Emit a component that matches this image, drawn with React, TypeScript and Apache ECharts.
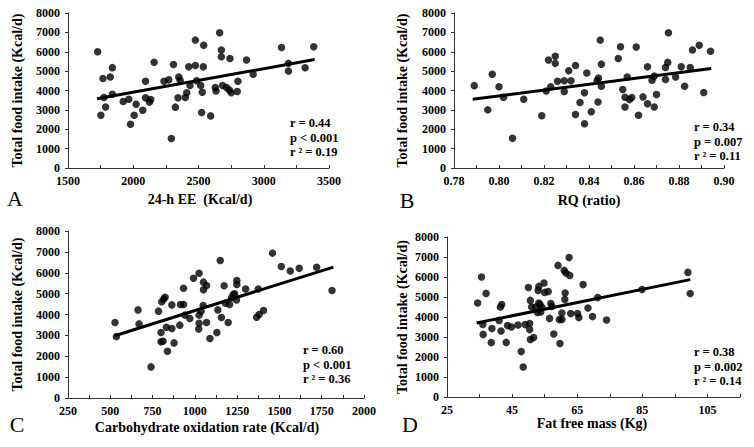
import React, { useEffect, useRef } from "react";
import * as echarts from "echarts";

const FONT = '"Liberation Serif", "Times New Roman", serif';

// Panel A: 24-h EE (Kcal/d) vs Total food intake (Kcal/d)
const eeIntake: [number, number][] = [
  [1727, 6000], [1752, 2720], [1768, 4620], [1775, 3640], [1788, 3150], [1824, 4700], [1840, 5180],
  [1840, 3810], [1923, 3430], [1966, 3550], [1979, 2260], [2007, 2720], [2022, 3290], [2073, 2980],
  [2094, 4480], [2094, 3620], [2124, 3400], [2134, 3530], [2160, 5460], [2236, 4480], [2272, 4550],
  [2292, 1520], [2308, 5340], [2323, 3140], [2343, 3620], [2349, 4700], [2359, 4530], [2399, 3640],
  [2410, 3880], [2425, 5220], [2435, 4260], [2476, 6600], [2476, 5290], [2486, 4500], [2517, 4260],
  [2524, 2860], [2529, 3910], [2537, 5220], [2540, 6330], [2593, 2690], [2629, 4150], [2634, 3980],
  [2662, 6980], [2675, 6090], [2675, 5740], [2685, 4260], [2715, 4150], [2736, 4020], [2741, 5650],
  [2751, 3880], [2797, 3950], [2802, 4480], [2868, 5570], [2919, 4840], [3136, 6220], [3189, 5400],
  [3189, 5000], [3317, 5170], [3383, 6260],
];
const eeFit: [number, number][] = [[1722, 3570], [3390, 5600]];

// Panel B: RQ (ratio)
const rqIntake: [number, number][] = [
  [0.789, 4250], [0.795, 3000], [0.797, 4840], [0.800, 4190], [0.802, 3650], [0.806, 1530],
  [0.811, 3550], [0.819, 2700], [0.821, 3970], [0.822, 5570], [0.823, 4190], [0.825, 5770],
  [0.825, 5400], [0.826, 4480], [0.829, 4500], [0.829, 3950], [0.831, 5020], [0.832, 4500],
  [0.834, 5290], [0.834, 2760], [0.836, 3380], [0.838, 2280], [0.838, 3880], [0.839, 4900],
  [0.841, 2900], [0.8436, 4500], [0.8442, 4640], [0.844, 3410], [0.845, 6600], [0.8455, 5360],
  [0.8455, 4220], [0.853, 5650], [0.854, 6260], [0.855, 4050], [0.856, 3650], [0.856, 3150],
  [0.857, 4700], [0.858, 3530], [0.859, 3640], [0.861, 6240], [0.862, 2720], [0.864, 3670],
  [0.866, 3310], [0.866, 5220], [0.868, 4530], [0.869, 4740], [0.869, 3150], [0.870, 3790],
  [0.874, 4570], [0.874, 5190], [0.875, 5450], [0.8753, 6980], [0.8785, 4700], [0.881, 5220],
  [0.8825, 4220], [0.885, 5190], [0.886, 6090], [0.889, 6330], [0.891, 3900], [0.894, 6030],
];
const rqFit: [number, number][] = [[0.7883, 3550], [0.8943, 5140]];

// Panel C: Carbohydrate oxidation rate (Kcal/d)
const choIntake: [number, number][] = [
  [528, 3620], [536, 2940], [664, 4220], [670, 3550], [741, 1490], [785, 4160], [800, 2690],
  [800, 3140], [804, 4610], [812, 2720], [816, 4740], [824, 4830], [832, 3390], [838, 2240],
  [864, 4460], [864, 3330], [877, 2640], [911, 3490], [915, 4480], [933, 4480], [933, 5260],
  [941, 3970], [970, 3810], [992, 5740], [1025, 5980], [1023, 3300], [1025, 3580], [1025, 3970],
  [1037, 4160], [1049, 4430], [1051, 5550], [1051, 5180], [1069, 5390], [1069, 3620], [1089, 2850],
  [1130, 3140], [1136, 4220], [1150, 6590], [1157, 3860], [1173, 5380], [1181, 4540], [1197, 3620],
  [1205, 4480], [1217, 4800], [1227, 4960], [1235, 4990], [1246, 4700], [1248, 5630], [1248, 5440],
  [1300, 5220], [1365, 3870], [1375, 5220], [1380, 4000], [1406, 4190], [1459, 6940], [1511, 6300],
  [1564, 6080], [1617, 6210], [1720, 6260], [1811, 5150],
];
const choFit: [number, number][] = [[526, 2980], [1819, 6270]];

// Panel D: Fat free mass (Kg)
const ffmIntake: [number, number][] = [
  [34.4, 4700], [35.6, 6000], [36.0, 3630], [36.1, 3130], [37.0, 5180], [38.6, 2720], [38.8, 3420],
  [41.0, 3830], [41.4, 4500], [41.8, 4620], [41.6, 3300], [43.2, 2730], [43.6, 3570], [44.8, 3500],
  [46.8, 3600], [47.8, 2270], [48.4, 1500], [49.0, 3620], [50.0, 5470], [50.4, 3370], [50.4, 3670],
  [50.6, 4830], [50.6, 2870], [51.0, 4500], [51.6, 2970], [52.2, 4500], [52.8, 4230], [53.0, 5330],
  [53.2, 5530], [53.2, 4700], [53.6, 4630], [53.8, 4250], [54.2, 4470], [54.8, 5700], [55.0, 5230],
  [56.1, 5270], [56.5, 3930], [56.9, 4670], [57.2, 4530], [57.8, 3150], [59.1, 6580], [59.5, 3870],
  [59.7, 2670], [60.3, 4200], [60.3, 3880], [61.0, 6330], [61.3, 5200], [61.2, 4870], [61.5, 6200],
  [62.5, 6970], [62.7, 6080], [63.0, 4170], [65.1, 4170], [65.5, 3970], [66.8, 5620], [68.3, 4450],
  [69.7, 4020], [71.3, 4970], [74.0, 3850], [84.9, 5370], [99.0, 6230], [99.7, 5170],
];
const ffmFit: [number, number][] = [[34.1, 3700], [99.7, 5870]];

const xNames = ["24-h EE  (Kcal/d)", "RQ (ratio)", "Carbohydrate oxidation rate (Kcal/d)", "Fat free mass (Kg)"];
const yName = "Total food intake (Kcal/d)";
const panelLetters = ["A", "B", "C", "D"];
const statsR = ["r = 0.44", "r = 0.34", "r = 0.60", "r = 0.38"];
const statsP = ["p < 0.001", "p = 0.007", "p < 0.001", "p = 0.002"];
const statsR2 = ["r ² = 0.19", "r ² = 0.11", "r ² = 0.36", "r ² = 0.14"];

export default function App() {
  const ref = useRef<HTMLDivElement>(null);
  useEffect(() => {
    if (!ref.current) return;
    const chart = echarts.init(ref.current, null, { renderer: "svg" });

    const grids = [
      { left: 68, top: 13, width: 261, height: 155 },
      { left: 454, top: 13, width: 270, height: 155 },
      { left: 68, top: 231, width: 296, height: 167 },
      { left: 447, top: 237, width: 293, height: 160 },
    ];
    const xCfg = [
      { min: 1500, max: 3500, interval: 250, fmt: (v: number) => ((v - 1500) % 500 === 0 ? String(v) : "") },
      { min: 0.78, max: 0.9, interval: 0.01, fmt: (v: number) => (Math.round(v * 100) % 2 === 0 ? v.toFixed(2) : "") },
      { min: 250, max: 2000, interval: 125, fmt: (v: number) => ((v - 250) % 250 === 0 ? String(v) : "") },
      { min: 25, max: 115, interval: 10, fmt: (v: number) => ((Math.round(v) - 25) % 20 === 0 ? String(Math.round(v)) : "") },
    ];
    const yGaps = [44, 45, 44, 38];
    const datasets = [eeIntake, rqIntake, choIntake, ffmIntake];
    const fits = [eeFit, rqFit, choFit, ffmFit];
    const axisColor = "#333";

    const labelStyle = { color: "#000", fontFamily: FONT, fontWeight: "bold" as const, fontSize: 12 };
    const nameStyle = { color: "#000", fontFamily: FONT, fontWeight: "bold" as const, fontSize: 14 };

    const xAxis = xCfg.map((c, i) => ({
      type: "value",
      gridIndex: i,
      min: c.min,
      max: c.max,
      interval: c.interval,
      splitLine: { show: false },
      axisLine: { onZero: false, lineStyle: { color: axisColor, width: 1 } },
      axisTick: { inside: true, length: 3, lineStyle: { color: axisColor } },
      axisLabel: { ...labelStyle, margin: 7, formatter: c.fmt },
    }));
    const yAxis = grids.map((_, i) => ({
      type: "value",
      gridIndex: i,
      min: 0,
      max: 8000,
      interval: 1000,
      name: yName,
      nameLocation: "middle",
      nameGap: yGaps[i],
      nameRotate: 90,
      nameTextStyle: nameStyle,
      splitLine: { show: false },
      axisLine: { show: true, onZero: false, lineStyle: { color: axisColor, width: 1 } },
      axisTick: { show: true, inside: false, length: 3, lineStyle: { color: axisColor } },
      axisLabel: { ...labelStyle, margin: 8, formatter: (v: number) => String(v) },
    }));

    const series: any[] = [];
    datasets.forEach((d, i) => {
      series.push({
        type: "scatter",
        xAxisIndex: i,
        yAxisIndex: i,
        data: d,
        symbol: "circle",
        symbolSize: 7.5,
        itemStyle: { color: "#000" },
      });
      series.push({
        type: "line",
        xAxisIndex: i,
        yAxisIndex: i,
        data: fits[i],
        symbol: "none",
        lineStyle: { color: "#000", width: 3 },
        z: 3,
      });
    });

    const letterPos = [[15, 198], [407, 200], [17, 424], [410, 424]];
    const xNamePos = [[200, 199], [589, 200], [207, 427], [592, 423]];
    const statPos = [[290, 123], [694, 127], [303, 350], [694, 352]];
    const graphic: any[] = [];
    panelLetters.forEach((L, i) => {
      graphic.push({
        type: "text",
        x: letterPos[i][0],
        y: letterPos[i][1],
        style: { text: L, font: `normal 22px ${FONT}`, fill: "#000", textAlign: "center", textVerticalAlign: "middle" },
      });
      graphic.push({
        type: "text",
        x: xNamePos[i][0],
        y: xNamePos[i][1],
        style: { text: xNames[i], font: `bold 14px ${FONT}`, fill: "#000", textAlign: "center", textVerticalAlign: "middle" },
      });
      [statsR[i], statsP[i], statsR2[i]].forEach((t, k) => {
        graphic.push({
          type: "text",
          x: statPos[i][0],
          y: statPos[i][1] + k * 14.5,
          style: { text: t, font: `bold 12.5px ${FONT}`, fill: "#000", textAlign: "left", textVerticalAlign: "middle" },
        });
      });
    });

    chart.setOption({
      animation: false,
      backgroundColor: "#fff",
      grid: grids,
      xAxis,
      yAxis,
      series,
      graphic,
    });
    return () => chart.dispose();
  }, []);
  return <div ref={ref} style={{ position: "fixed", left: 0, top: 0, width: 754, height: 447 }} />;
}
